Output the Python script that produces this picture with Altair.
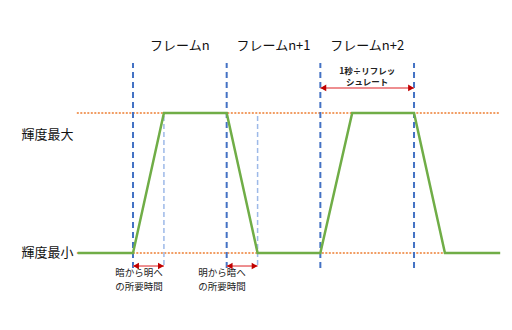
import altair as alt
import pandas as pd

# time in frame units (frame boundaries at 0,1,2,3), brightness 0..1
line_t = [-0.59, 0.0, 0.33, 1.0, 1.33, 2.0, 2.34, 3.0, 3.33, 3.92]
line_b = [0, 0, 1, 1, 0, 0, 1, 1, 0, 0]

frame_t = [0, 1, 2, 3]
frame_top = 1.357
frame_bot = -0.107

resp_t = [0.33, 1.33]
resp_top = 1.0
resp_bot = -0.086

level_b = [0, 1]
level_t0 = -0.6
level_t1 = 3.92

frame_names = ["フレームn", "フレームn+1", "フレームn+2"]
frame_label_t = [0.5, 1.5, 2.5]
frame_label_b = 1.479

level_names = ["輝度最大", "輝度最小"]
level_label_b = [0.843, 0.0]
level_label_t = -1.19

arrow_t0 = [2.0, 0.0, 1.0]
arrow_t1 = [3.0, 0.33, 1.33]
arrow_b = [1.179, -0.093, -0.093]

top_note = ["1秒÷リフレッ", "シュレート"]
top_note_b = [1.30, 1.219]
top_note_t = 2.5

bot_notes = ["暗から明へ", "の所要時間", "明から暗へ", "の所要時間"]
bot_notes_t = [0.064, 0.064, 0.95, 0.95]
bot_notes_b = [-0.145, -0.24, -0.145, -0.24]

xs = alt.Scale(domain=[-1.42, 4.046], range=[0, 512])
ys = alt.Scale(domain=[-0.55, 1.807], range=[330, 0])
X = lambda f: alt.X(f, type="quantitative", scale=xs, axis=None)
Y = lambda f: alt.Y(f, type="quantitative", scale=ys, axis=None)

df_line = pd.DataFrame({"t": line_t, "b": line_b, "o": range(len(line_t))})
df_frame = pd.DataFrame({"t": frame_t, "b0": frame_bot, "b1": frame_top})
df_resp = pd.DataFrame({"t": resp_t, "b0": resp_bot, "b1": resp_top})
df_level = pd.DataFrame({"b": level_b, "t0": level_t0, "t1": level_t1})
df_flab = pd.DataFrame({"t": frame_label_t, "b": frame_label_b, "s": frame_names})
df_llab = pd.DataFrame({"t": level_label_t, "b": level_label_b, "s": level_names})
df_arr = pd.DataFrame({"t0": arrow_t0, "t1": arrow_t1, "b": arrow_b})
df_tn = pd.DataFrame({"t": top_note_t, "b": top_note_b, "s": top_note})
df_bn = pd.DataFrame({"t": bot_notes_t, "b": bot_notes_b, "s": bot_notes})

levels = alt.Chart(df_level).mark_rule(
    color="#ED7D31", strokeWidth=1.5, strokeDash=[2, 1.5]
).encode(x=X("t0"), x2="t1", y=Y("b"))

resp = alt.Chart(df_resp).mark_rule(
    color="#9DB9E8", strokeWidth=1.5, strokeDash=[5, 3]
).encode(x=X("t"), y=Y("b0"), y2="b1")

frames = alt.Chart(df_frame).mark_rule(
    color="#4472C4", strokeWidth=2, strokeDash=[6, 4]
).encode(x=X("t"), y=Y("b0"), y2="b1")

line = alt.Chart(df_line).mark_line(
    color="#70AD47", strokeWidth=2.5
).encode(x=X("t"), y=Y("b"), order="o")

arrows = alt.Chart(df_arr).mark_rule(
    color="#E8696B", strokeWidth=1.5
).encode(x=X("t0"), x2="t1", y=Y("b"))

heads_l = alt.Chart(df_arr).mark_point(
    shape="triangle-left", filled=True, color="#C00000", size=45, opacity=1, xOffset=3
).encode(x=X("t0"), y=Y("b"))

heads_r = alt.Chart(df_arr).mark_point(
    shape="triangle-right", filled=True, color="#C00000", size=45, opacity=1, xOffset=-3
).encode(x=X("t1"), y=Y("b"))

font = "Noto Sans CJK JP"

flab = alt.Chart(df_flab).mark_text(
    font=font, fontSize=13, color="#111111", align="center", baseline="middle"
).encode(x=X("t"), y=Y("b"), text="s")

llab = alt.Chart(df_llab).mark_text(
    font=font, fontSize=13, color="#111111", align="left", baseline="middle"
).encode(x=X("t"), y=Y("b"), text="s")

tn = alt.Chart(df_tn).mark_text(
    font=font, fontSize=8.5, fontWeight="bold", color="#222222", align="center", baseline="middle"
).encode(x=X("t"), y=Y("b"), text="s")

bn = alt.Chart(df_bn).mark_text(
    font=font, fontSize=9.5, color="#222222", align="center", baseline="middle"
).encode(x=X("t"), y=Y("b"), text="s")

chart = alt.layer(
    levels, resp, frames, line, arrows, heads_l, heads_r, flab, llab, tn, bn
).properties(
    width=512, height=330, padding=0, autosize=alt.AutoSizeParams(type="none"),
    background="white"
).configure_view(stroke=None)

chart.save("out.html", embed_options={"renderer": "svg", "actions": False})
